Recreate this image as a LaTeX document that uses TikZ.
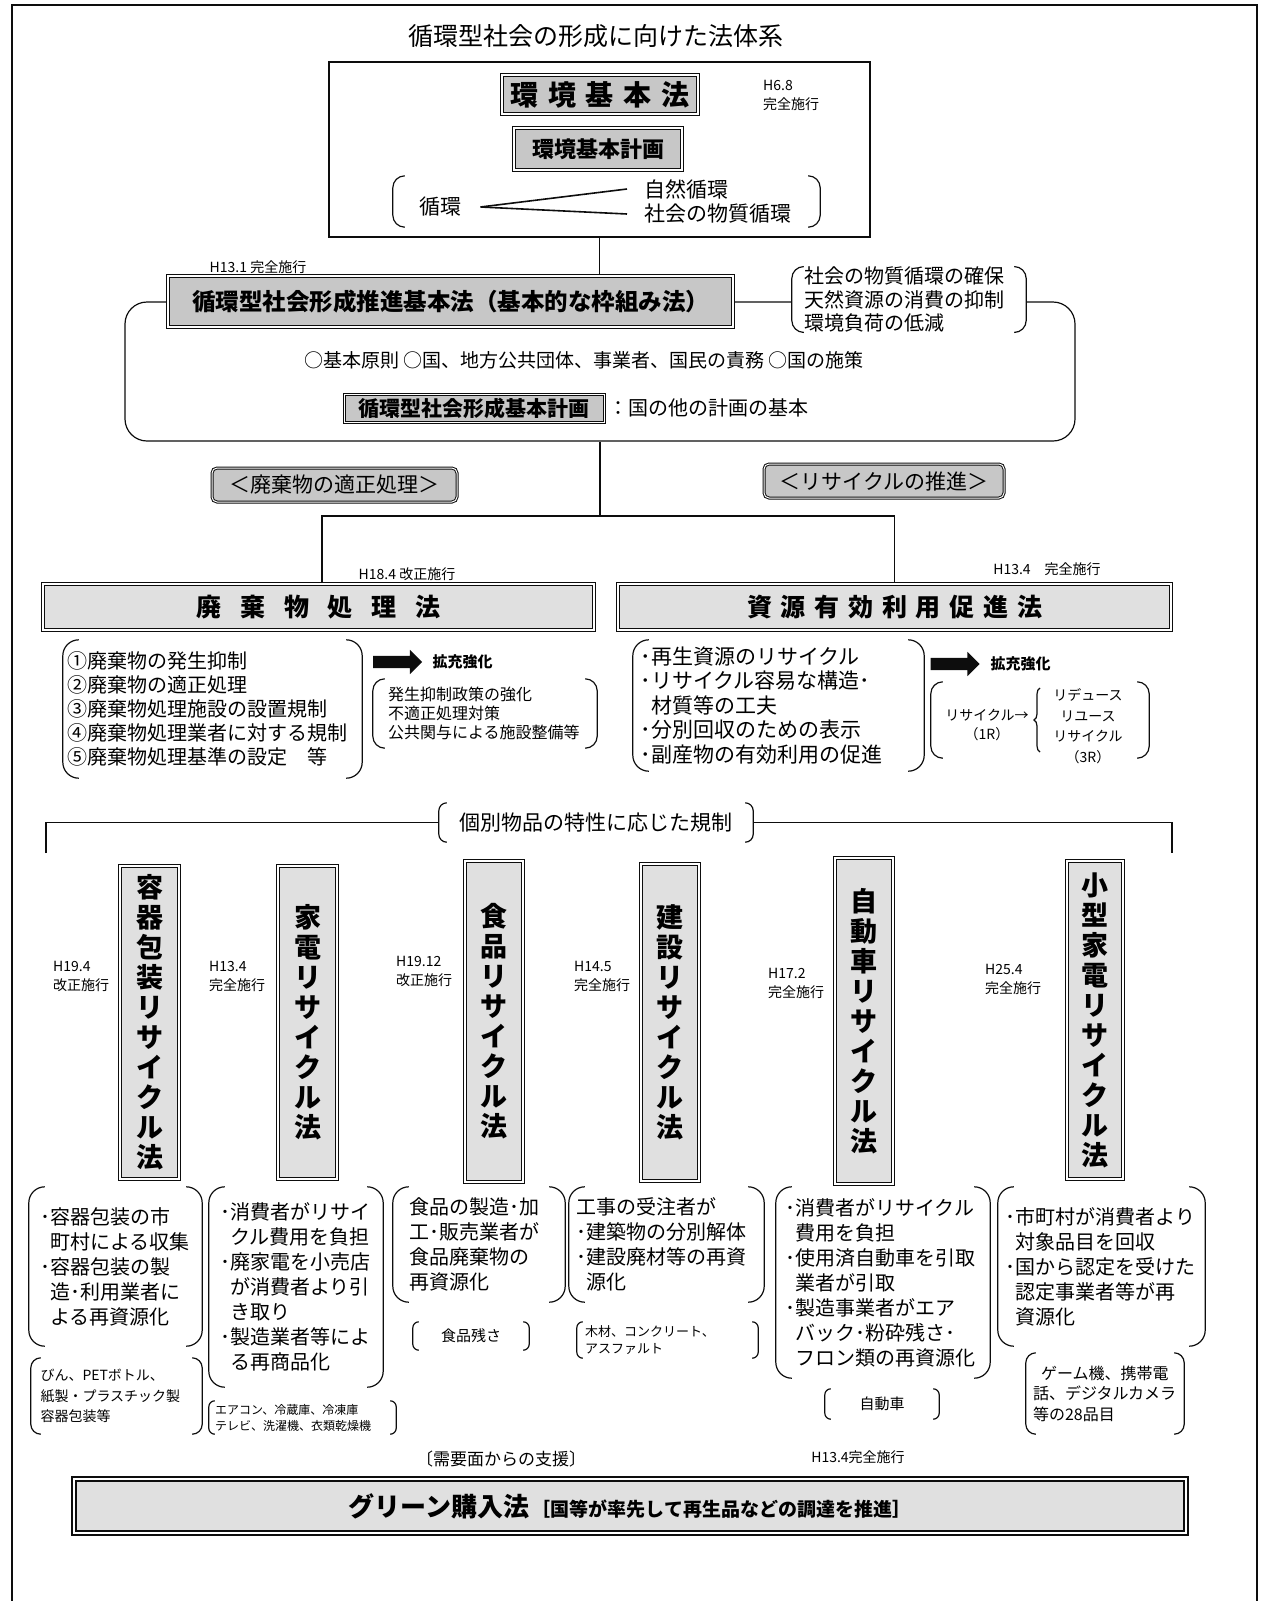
\documentclass[tikz,border=0pt]{standalone}
\usepackage{fontspec}
\setmainfont{Noto Sans CJK JP}
\usetikzlibrary{positioning,arrows.meta,calc,shapes.arrows,decorations.pathreplacing}
\definecolor{ink}{gray}{0.05}
\definecolor{halftone}{gray}{0.78}
\definecolor{lighttone}{gray}{0.88}
\newcommand\fsz[2]{\fontsize{#1}{#2}\selectfont}
\newcommand\gap[1]{\hspace{#1em}}
\newcommand\parpair[2][16pt]{%
  \draw[paren,rounded corners=#1] ([xshift=#1]#2.north west) -- (#2.north west) -- (#2.south west) -- ([xshift=#1]#2.south west);
  \draw[paren,rounded corners=#1] ([xshift=-#1]#2.north east) -- (#2.north east) -- (#2.south east) -- ([xshift=-#1]#2.south east);}
\tikzset{
  wire/.style={draw=ink,line width=1.2pt},
  paren/.style={draw=ink,line width=1.2pt},
  lawbox/.style={draw=ink,line width=1.6pt,double=white,double distance=1.2pt,fill=halftone,font=\bfseries,inner sep=0pt},
  widelaw/.style={lawbox,fill=lighttone},
  vlaw/.style={lawbox,fill=lighttone,align=center,font=\bfseries\fsz{27}{30}},
  tag/.style={draw=ink,line width=1pt,double=white,double distance=1pt,fill=halftone,rounded corners=5pt,inner sep=0pt,font=\fsz{21}{24}},
  date/.style={font=\fsz{14}{19},align=left,inner sep=0pt},
  desc/.style={align=left,inner sep=0pt},
  fatarrow/.style={single arrow,fill=ink,minimum height=49pt,inner xsep=0pt,inner ysep=6pt,single arrow head extend=6pt},
}
\begin{document}
\begin{tikzpicture}[x=1pt,y=-1pt]
\useasboundingbox (0,0) rectangle (1264,1601);
% page frame
\draw[wire] (12,1601) -- (12,5) -- (1257,5) -- (1257,1601);

% environment basic law
\node[font=\fsz{25}{28}] (title) at (596,36) {循環型社会の形成に向けた法体系};
\node[wire,minimum width=541,minimum height=175,inner sep=0pt] (envbox) at (599.5,149.5) {};
\node[lawbox,font=\bfseries\fsz{28}{30},minimum width=196,minimum height=39] (envlaw) at (600,94.5) {環\gap{.34}境\gap{.34}基\gap{.34}本\gap{.34}法};
\node[lawbox,font=\bfseries\fsz{22}{24},minimum width=168,minimum height=42] (envplan) at (598,149) {環境基本計画};
\node[date,anchor=north west] (envdate) at (763,80) {H6.8\\完全施行};
\node[minimum width=427,minimum height=51,inner sep=0pt] (cycgrp) at (606.5,201.5) {};
\parpair[12pt]{cycgrp}
\node[font=\fsz{21}{24}] (cyc) at (440,207) {循環};
\node[font=\fsz{21}{24},anchor=west] (natcyc) at (641,189) {自然循環};
\node[font=\fsz{21}{24},anchor=west] (soccyc) at (641,214) {社会の物質循環};
\draw[wire,line width=1.6pt] ([xshift=16pt]cyc.east) -- ([xshift=-14pt]natcyc.west);
\draw[wire,line width=1.6pt] ([xshift=16pt]cyc.east) -- ([xshift=-14pt]soccyc.west);

% basic law for a sound material-cycle society
\node[date] (basicdate) at (258,267) {H13.1 完全施行};
\node[wire,rounded corners=22pt,minimum width=950,minimum height=139,inner sep=0pt] (frame) at (600,371.5) {};
\node[lawbox,font=\bfseries\fsz{23.5}{26},minimum width=565,minimum height=51] (basiclaw) at (450.5,301.5) {循環型社会形成推進基本法（基本的な枠組み法）};
\node[desc,fill=white,font=\fsz{20}{23.5},minimum width=234,minimum height=65,text width=210] (aims) at (909,299.5) {社会の物質循環の確保\\天然資源の消費の抑制\\環境負荷の低減};
\parpair[12pt]{aims}
\node[font=\fsz{19}{22}] (prin) at (584,360) {○基本原則 ○国、地方公共団体、事業者、国民の責務 ○国の施策};
\node[lawbox,line width=1pt,double distance=1pt,font=\bfseries\fsz{21}{23},minimum width=260,minimum height=28] (plan) at (474,408) {循環型社会形成基本計画};
\node[font=\fsz{20}{22},anchor=west] (plannote) at (plan.east) {：国の他の計画の基本};
\draw[wire] (envbox.south) -- (envbox.south |- basiclaw.north);
\coordinate (split) at (600,516);
\draw[wire] (frame.south) -- (split);

% waste and resource laws
\node[tag,minimum width=245,minimum height=34] (tagwaste) at (334.5,485) {＜廃棄物の適正処理＞};
\node[tag,minimum width=240,minimum height=34] (tagrecy) at (884,481) {＜リサイクルの推進＞};
\node[date] (wastedate) at (407,574) {H18.4 改正施行};
\node[date] (resodate) at (1047,569) {H13.4　完全施行};
\node[widelaw,font=\bfseries\fsz{25}{27},minimum width=551,minimum height=46] (wastelaw) at (318.5,607) {廃\gap{.75}棄\gap{.75}物\gap{.75}処\gap{.75}理\gap{.75}法};
\node[widelaw,font=\bfseries\fsz{25}{27},minimum width=553,minimum height=46] (resolaw) at (894.5,607) {資\gap{.35}源\gap{.35}有\gap{.35}効\gap{.35}利\gap{.35}用\gap{.35}促\gap{.35}進\gap{.35}法};
\draw[wire] ([xshift=3.5pt]wastelaw.north) |- (split) -| (resolaw.north);

\node[desc,font=\fsz{20}{24},minimum width=299,minimum height=138,text width=290] (wastelist) at (212.5,709) {①廃棄物の発生抑制\\②廃棄物の適正処理\\③廃棄物処理施設の設置規制\\④廃棄物処理業者に対する規制\\⑤廃棄物処理基準の設定　等};
\parpair{wastelist}
\node[fatarrow] (arr1) at (394.5,662) {};
\node[font=\bfseries\fsz{15}{17},anchor=west] (expand1) at (429,662) {拡充強化};
\node[desc,font=\fsz{16}{19},minimum width=224,minimum height=69,text width=194] (wastenew) at (485,713.5) {発生抑制政策の強化\\不適正処理対策\\公共関与による施設整備等};
\parpair[12pt]{wastenew}

\node[desc,font=\fsz{21}{24.5},minimum width=291,minimum height=131,text width=276] (resolist) at (778.5,705.5) {･再生資源のリサイクル\\･リサイクル容易な構造･\\\phantom{･}材質等の工夫\\･分別回収のための表示\\･副産物の有効利用の促進};
\parpair{resolist}
\node[fatarrow] (arr2) at (952,664) {};
\node[font=\bfseries\fsz{15}{17},anchor=west] (expand2) at (987,664) {拡充強化};
\node[minimum width=218,minimum height=76,inner sep=0pt] (recy) at (1040,720) {};
\parpair[12pt]{recy}
\node[align=center,font=\fsz{14}{19}] (onerule) at (987,725) {リサイクル→\\（1R）};
\node[align=center,font=\fsz{14}{20.5}] (threerule) at (1088,726) {リデュース\\リユース\\リサイクル\\（3R）};
\draw[wire,decorate,decoration={brace,amplitude=6pt}] (1040,752) -- (1040,688);

% individual recycling laws
\node[font=\fsz{21}{24},minimum width=314,minimum height=39,inner sep=0pt] (indiv) at (596,822.5) {個別物品の特性に応じた規制};
\parpair[8pt]{indiv}
\coordinate (lend) at (46,853);
\coordinate (rend) at (1172,853);
\draw[wire] (lend) |- (indiv.west);
\draw[wire] (indiv.east) -| (rend);

\node[vlaw,minimum width=59,minimum height=313] (pack) at (149.5,1022.5) {容\\器\\包\\装\\リ\\サ\\イ\\ク\\ル\\法};
\node[vlaw,minimum width=59,minimum height=313] (home) at (307.5,1022.5) {家\\電\\リ\\サ\\イ\\ク\\ル\\法};
\node[vlaw,minimum width=58,minimum height=321] (food) at (494,1021.5) {食\\品\\リ\\サ\\イ\\ク\\ル\\法};
\node[vlaw,minimum width=58,minimum height=317] (build) at (670,1022.5) {建\\設\\リ\\サ\\イ\\ク\\ル\\法};
\node[vlaw,minimum width=58,minimum height=326] (car) at (864,1021) {自\\動\\車\\リ\\サ\\イ\\ク\\ル\\法};
\node[vlaw,minimum width=56,minimum height=318] (small) at (1095,1020) {小\\型\\家\\電\\リ\\サ\\イ\\ク\\ル\\法};

\node[date,anchor=north west] (packdate) at (53,961) {H19.4\\改正施行};
\node[date,anchor=north west] (homedate) at (209,961) {H13.4\\完全施行};
\node[date,anchor=north west] (fooddate) at (396,956) {H19.12\\改正施行};
\node[date,anchor=north west] (builddate) at (574,961) {H14.5\\完全施行};
\node[date,anchor=north west] (cardate) at (768,968) {H17.2\\完全施行};
\node[date,anchor=north west] (smalldate) at (985,964) {H25.4\\完全施行};

% what each law does
\node[desc,font=\fsz{20}{25},minimum width=173,minimum height=159,text width=151] (packdesc) at (115.5,1266.5) {･容器包装の市\\\phantom{･}町村による収集\\･容器包装の製\\\phantom{･}造･利用業者に\\\phantom{･}よる再資源化};
\parpair{packdesc}
\node[desc,font=\fsz{20}{25},minimum width=174,minimum height=200,text width=152] (homedesc) at (296,1287) {･消費者がリサイ\\\phantom{･}クル費用を負担\\･廃家電を小売店\\\phantom{･}が消費者より引\\\phantom{･}き取り\\･製造業者等によ\\\phantom{･}る再商品化};
\parpair{homedesc}
\node[desc,font=\fsz{20}{25},minimum width=172,minimum height=115,text width=140] (fooddesc) at (479,1244.5) {食品の製造･加\\工･販売業者が\\食品廃棄物の\\再資源化};
\parpair{fooddesc}
\node[desc,font=\fsz{20}{25},minimum width=195,minimum height=115,text width=180] (builddesc) at (666.5,1244.5) {工事の受注者が\\･建築物の分別解体\\･建設廃材等の再資\\\phantom{･}源化};
\parpair{builddesc}
\node[desc,font=\fsz{20}{25},minimum width=214,minimum height=191,text width=196] (cardesc) at (883,1282.5) {･消費者がリサイクル\\\phantom{･}費用を負担\\･使用済自動車を引取\\\phantom{･}業者が引取\\･製造事業者がエア\\\phantom{･}バック･粉砕残さ･\\\phantom{･}フロン類の再資源化};
\parpair{cardesc}
\node[desc,font=\fsz{20}{25},minimum width=207,minimum height=159,text width=192] (smalldesc) at (1101.5,1266.5) {･市町村が消費者より\\\phantom{･}対象品目を回収\\･国から認定を受けた\\\phantom{･}認定事業者等が再\\\phantom{･}資源化};
\parpair{smalldesc}

% target items
\node[desc,font=\fsz{14}{20.5},minimum width=171,minimum height=76,text width=152] (packitems) at (116.5,1396) {びん、PETボトル、\\紙製・プラスチック製\\容器包装等};
\parpair[10pt]{packitems}
\node[desc,font=\fsz{12}{16},minimum width=187,minimum height=33,text width=175] (homeitems) at (302.5,1417.5) {エアコン、冷蔵庫、冷凍庫\\テレビ、洗濯機、衣類乾燥機};
\parpair[6pt]{homeitems}
\node[font=\fsz{15}{17},minimum width=116,minimum height=28,inner sep=0pt] (fooditems) at (471,1336) {食品残さ};
\parpair[6pt]{fooditems}
\node[desc,font=\fsz{13}{17},minimum width=181,minimum height=36,text width=165] (builditems) at (667.5,1340) {木材、コンクリート、\\アスファルト};
\parpair[6pt]{builditems}
\node[font=\fsz{15}{17},minimum width=114,minimum height=30,inner sep=0pt] (caritems) at (882,1404) {自動車};
\parpair[6pt]{caritems}
\node[desc,font=\fsz{16}{20.5},minimum width=158,minimum height=81,text width=144] (smallitems) at (1105,1393.5) {\hspace{.5em}ゲーム機、携帯電\\話、デジタルカメラ\\等の28品目};
\parpair[10pt]{smallitems}

% green purchasing law
\node[font=\fsz{17}{19}] (demand) at (501,1459) {〔需要面からの支援〕};
\node[date] (greendate) at (858,1457) {H13.4完全施行};
\node[widelaw,line width=2pt,minimum width=1112,minimum height=54] (greenlaw) at (630,1506) {{\fsz{26}{28}グリーン購入法} {\fsz{19}{21}［国等が率先して再生品などの調達を推進］}};
\end{tikzpicture}
\end{document}
